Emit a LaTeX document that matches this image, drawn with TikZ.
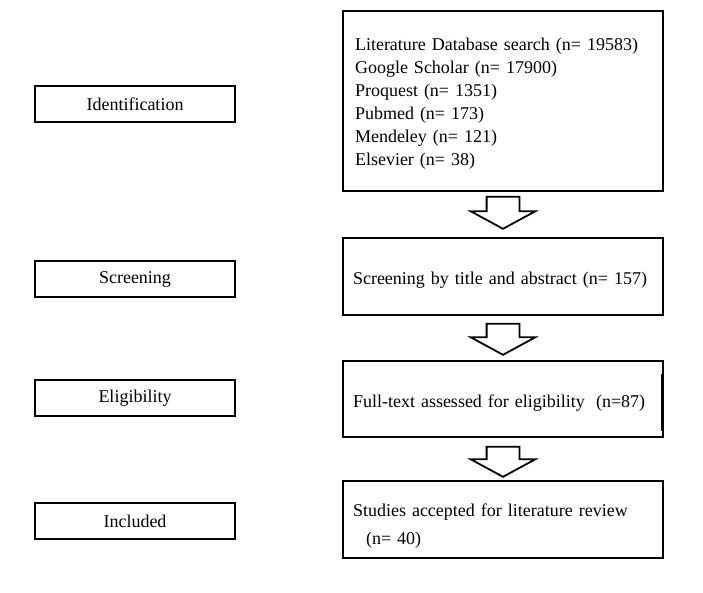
\documentclass[tikz,border=0pt]{standalone}
\usepackage{fontspec}
\setmainfont{Liberation Serif}
\usetikzlibrary{shapes.arrows, positioning}

\begin{document}
\begin{tikzpicture}[x=1pt, y=-1pt, line width=1.8pt, font=\fontsize{18}{23}\selectfont]
\useasboundingbox (0,0) rectangle (703,592);
\node[draw, minimum width=200pt, minimum height=36pt, inner sep=0pt](ident) at (135,104){Identification};
\node[draw, minimum width=200pt, minimum height=36pt, inner sep=0pt](scrn) at (135,279){Screening};
\node[draw, minimum width=200pt, minimum height=36pt, inner sep=0pt](elig) at (135,398){Eligibility};
\node[draw, minimum width=200pt, minimum height=36pt, inner sep=0pt](incl) at (135,521){Included};
\node[draw, align=left, text width=296pt, inner xsep=12pt, minimum height=180pt](db) at (503,101){\rule{0pt}{18.5pt}Literature Database search (n= 19583)\\ Google Scholar (n= 17900)\\ Proquest (n= 1351)\\ Pubmed (n= 173)\\ Mendeley (n= 121)\\ Elsevier (n= 38)};
\node[draw, align=left, text width=300pt, inner xsep=10pt, minimum height=77pt](title) at (503,276.5){\rule{0pt}{19pt}Screening by title and abstract (n= 157)};
\node[draw, align=left, text width=300pt, inner xsep=10pt, minimum height=76pt](full) at (503,399){\rule{0pt}{20pt}Full-text assessed for eligibility\hspace{11pt}(n=87)};
\node[draw, align=left, text width=300pt, inner xsep=10pt, minimum height=77pt, font=\fontsize{18}{28}\selectfont](acc) at (503,519.5){\rule{0pt}{25pt}Studies accepted for literature review\\ \hspace*{13pt}(n= 40)};
\node[draw, single arrow, rotate=-90, anchor=tail, inner sep=0pt, text height=31pt, minimum height=32pt, single arrow head extend=16pt, single arrow tip angle=123](a1) at ([yshift=-4pt]db.south){};
\node[draw, single arrow, rotate=-90, anchor=tail, inner sep=0pt, text height=31pt, minimum height=31pt, single arrow head extend=16pt, single arrow tip angle=123](a2) at ([yshift=-7pt]title.south){};
\node[draw, single arrow, rotate=-90, anchor=tail, inner sep=0pt, text height=31pt, minimum height=30pt, single arrow head extend=16pt, single arrow tip angle=123](a3) at ([yshift=-8pt]full.south){};
\draw[line width=3pt] ([xshift=-1pt, yshift=-14pt]full.north east) -- ([xshift=-1pt, yshift=7pt]full.south east);
\end{tikzpicture}
\end{document}
